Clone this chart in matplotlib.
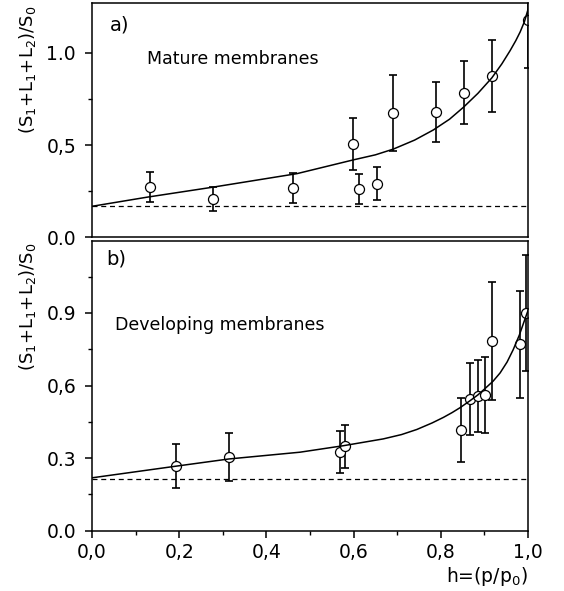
import matplotlib
matplotlib.use("Agg")
import matplotlib.pyplot as plt

plt.rcParams["font.family"] = ["DejaVu Sans"]
plt.rcParams["mathtext.fontset"] = "dejavusans"

# ---- a) mature membranes ----
mature_h = [0.133, 0.277, 0.462, 0.599, 0.613, 0.653, 0.691, 0.790, 0.854, 0.918, 1.0]
mature_y = [0.272, 0.205, 0.266, 0.505, 0.262, 0.291, 0.674, 0.681, 0.784, 0.875, 1.18]
mature_err = [0.080, 0.065, 0.080, 0.140, 0.080, 0.088, 0.208, 0.162, 0.172, 0.195, 0.26]
mature_fit_h = [0.0, 0.125, 0.278, 0.47, 0.60, 0.65, 0.691, 0.74, 0.783, 0.82, 0.852,
                0.885, 0.917, 0.94, 0.959, 0.972, 0.982, 0.992, 1.0]
mature_fit_y = [0.168, 0.217, 0.272, 0.345, 0.420, 0.447, 0.478, 0.527, 0.582, 0.640, 0.705,
                0.780, 0.864, 0.940, 1.012, 1.066, 1.113, 1.170, 1.235]
mature_base = 0.168

# ---- b) developing membranes ----
dev_h = [0.192, 0.314, 0.568, 0.580, 0.846, 0.866, 0.885, 0.902, 0.917, 0.982, 0.995]
dev_y = [0.266, 0.305, 0.324, 0.348, 0.417, 0.544, 0.558, 0.561, 0.784, 0.771, 0.900]
dev_err = [0.091, 0.100, 0.087, 0.090, 0.133, 0.149, 0.149, 0.157, 0.245, 0.222, 0.240]
dev_fit_h = [0.0, 0.192, 0.314, 0.477, 0.577, 0.668, 0.71, 0.745, 0.78, 0.806, 0.826,
             0.844, 0.867, 0.885, 0.90, 0.92, 0.936, 0.952, 0.966, 0.98, 0.995, 1.0]
dev_fit_y = [0.218, 0.266, 0.296, 0.324, 0.351, 0.379, 0.397, 0.418, 0.445, 0.468, 0.488,
             0.508, 0.537, 0.561, 0.585, 0.618, 0.652, 0.697, 0.748, 0.808, 0.885, 0.910]
dev_base = 0.215

x_ticks = [0.0, 0.2, 0.4, 0.6, 0.8, 1.0]
x_ticklabels = ["0,0", "0,2", "0,4", "0,6", "0,8", "1,0"]
x_minor = [0.1, 0.3, 0.5, 0.7, 0.9]
top_yticks = [0.0, 0.5, 1.0]
top_yticklabels = ["0.0", "0,5", "1.0"]
top_yminor = [0.25, 0.75]
bot_yticks = [0.0, 0.3, 0.6, 0.9]
bot_yticklabels = ["0.0", "0.3", "0,6", "0.9"]
bot_yminor = [0.15, 0.45, 0.75, 1.05]

W, H = 564, 591
fig = plt.figure(figsize=(W / 100, H / 100), dpi=100)
left, right = 92, 528
ax1 = fig.add_axes([left / W, 1 - 237.3 / H, (right - left) / W, (237.3 - 3) / H])
ax2 = fig.add_axes([left / W, 1 - 530.5 / H, (right - left) / W, (530.5 - 240.5) / H])

FS = 13.5


def px(x, y):
    """Pixel position (from top-left) to figure fraction."""
    return x / W, 1 - y / H


def draw_panel(ax, h, y, err, fh, fy, base, ylim):
    ax.errorbar(h, y, yerr=err, fmt="none", ecolor="black", elinewidth=1.2,
                capsize=2.6, capthick=1.2, zorder=2)
    ax.plot(h, y, "o", ms=7.2, mfc="white", mec="black", mew=0.9, zorder=3)
    ax.plot(fh, fy, "-", color="black", lw=1.1, zorder=4, solid_joinstyle="round")
    ax.axhline(base, color="black", lw=0.9, ls=(0, (4, 3)), zorder=1)
    ax.set_xlim(0, 1)
    ax.set_ylim(*ylim)
    for s in ax.spines.values():
        s.set_linewidth(1.1)
        s.set_zorder(5)


draw_panel(ax1, mature_h, mature_y, mature_err, mature_fit_h, mature_fit_y,
           mature_base, (0, 1.27))
draw_panel(ax2, dev_h, dev_y, dev_err, dev_fit_h, dev_fit_y, dev_base, (0, 1.2))

# tick setup
ax1.set_xticks([])
ax1.set_yticks(top_yticks)
ax1.set_yticklabels(top_yticklabels)
ax1.set_yticks(top_yminor, minor=True)
ax2.set_xticks(x_ticks)
ax2.set_xticklabels(x_ticklabels)
ax2.set_xticks(x_minor, minor=True)
ax2.set_yticks(bot_yticks)
ax2.set_yticklabels(bot_yticklabels)
ax2.set_yticks(bot_yminor, minor=True)
for ax in (ax1, ax2):
    ax.tick_params(which="major", direction="out", length=5, width=1.1,
                   labelsize=FS, color="black")
    ax.tick_params(which="minor", direction="out", length=3, width=1.0)
    ax.tick_params(axis="y", which="major", pad=6.5)
ax2.tick_params(axis="x", which="major", pad=4)

# panel annotations
fig.text(*px(110, 25), "a)", fontsize=FS + 0.5, ha="left", va="center")
fig.text(*px(147, 59), "Mature membranes", fontsize=12.5, ha="left", va="center")
fig.text(*px(106, 259), "b)", fontsize=FS + 0.5, ha="left", va="center")
fig.text(*px(115, 325), "Developing membranes", fontsize=12.5, ha="left", va="center")

ylab = r"(S$_1$+L$_1$+L$_2$)/S$_0$"
fig.text(*px(28, 70), ylab, rotation=90, ha="center", va="center", fontsize=13)
fig.text(*px(28, 307), ylab, rotation=90, ha="center", va="center", fontsize=13)
fig.text(*px(528, 577), r"h=(p/p$_0$)", ha="right", va="center", fontsize=13.5)

fig.savefig("out.png", dpi=100)
